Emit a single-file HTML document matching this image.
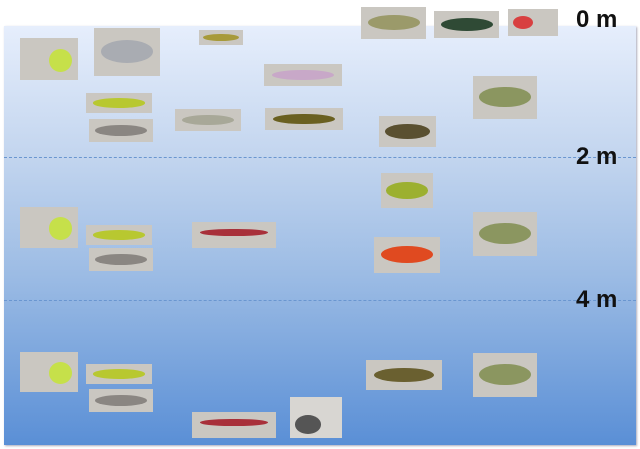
<!DOCTYPE html>
<html><head><style>
body{margin:0;width:640px;height:449px;background:#fff;position:relative;overflow:hidden;font-family:"Liberation Sans",sans-serif}
#bg{position:absolute;left:4px;top:26px;width:632px;height:419px;background:linear-gradient(#e6eefc 0%,#c4d6ef 30%,#9bbbe4 60%,#5a8fd6 100%);box-shadow:1px 1px 2px #aab}
.d{position:absolute;left:4px;width:632px;border-top:1px dashed #6a96d0}
.l{position:absolute;font-weight:bold;font-size:24px;color:#111;letter-spacing:0}
.b{position:absolute;background:#cac7c1;overflow:hidden}
.b i{position:absolute;border-radius:50%;left:10%;top:25%;width:80%;height:48%}
</style></head><body>
<div id="bg"></div>
<div class="d" style="top:157px"></div>
<div class="d" style="top:300px"></div>
<div class="l" style="left:576px;top:6px">0 m</div>
<div class="l" style="left:576px;top:143px">2 m</div>
<div class="l" style="left:576px;top:286px">4 m</div>

<div class="b" style="left:20px;top:38px;width:58px;height:42px"><i style="background:#c6e04a;left:50%;width:40%;height:55%"></i></div>
<div class="b" style="left:94px;top:28px;width:66px;height:48px"><i style="background:#a9acb2"></i></div>
<div class="b" style="left:199px;top:30px;width:44px;height:15px"><i style="background:#a79a3a"></i></div>
<div class="b" style="left:361px;top:7px;width:65px;height:32px"><i style="background:#9b9a6a"></i></div>
<div class="b" style="left:434px;top:11px;width:65px;height:27px"><i style="background:#2f4a35"></i></div>
<div class="b" style="left:508px;top:9px;width:50px;height:27px"><i style="background:#d84040;width:40%"></i></div>
<div class="b" style="left:264px;top:64px;width:78px;height:22px"><i style="background:#c8a8c8"></i></div>
<div class="b" style="left:473px;top:76px;width:64px;height:43px"><i style="background:#8b9660"></i></div>
<div class="b" style="left:86px;top:93px;width:66px;height:20px"><i style="background:#b8c830"></i></div>
<div class="b" style="left:89px;top:119px;width:64px;height:23px"><i style="background:#8a8682"></i></div>
<div class="b" style="left:175px;top:109px;width:66px;height:22px"><i style="background:#a8a898"></i></div>
<div class="b" style="left:265px;top:108px;width:78px;height:22px"><i style="background:#6a6020"></i></div>
<div class="b" style="left:379px;top:116px;width:57px;height:31px"><i style="background:#5a5030"></i></div>
<div class="b" style="left:381px;top:173px;width:52px;height:35px"><i style="background:#9cb030"></i></div>
<div class="b" style="left:20px;top:207px;width:58px;height:41px"><i style="background:#c6e04a;left:50%;width:40%;height:55%"></i></div>
<div class="b" style="left:86px;top:225px;width:66px;height:20px"><i style="background:#b8c830"></i></div>
<div class="b" style="left:89px;top:248px;width:64px;height:23px"><i style="background:#8a8682"></i></div>
<div class="b" style="left:192px;top:222px;width:84px;height:26px"><i style="background:#a8303a;height:30%"></i></div>
<div class="b" style="left:473px;top:212px;width:64px;height:44px"><i style="background:#8b9660"></i></div>
<div class="b" style="left:374px;top:237px;width:66px;height:36px"><i style="background:#e04a20"></i></div>
<div class="b" style="left:20px;top:352px;width:58px;height:40px"><i style="background:#c6e04a;left:50%;width:40%;height:55%"></i></div>
<div class="b" style="left:86px;top:364px;width:66px;height:20px"><i style="background:#b8c830"></i></div>
<div class="b" style="left:89px;top:389px;width:64px;height:23px"><i style="background:#8a8682"></i></div>
<div class="b" style="left:366px;top:360px;width:76px;height:30px"><i style="background:#6a6030"></i></div>
<div class="b" style="left:473px;top:353px;width:64px;height:44px"><i style="background:#8b9660"></i></div>
<div class="b" style="left:192px;top:412px;width:84px;height:26px"><i style="background:#a8303a;height:30%"></i></div>
<div class="b" style="left:290px;top:397px;width:52px;height:41px;background:#d8d6d2"><i style="background:#555;top:45%;height:45%;width:50%"></i></div>
</body></html>
